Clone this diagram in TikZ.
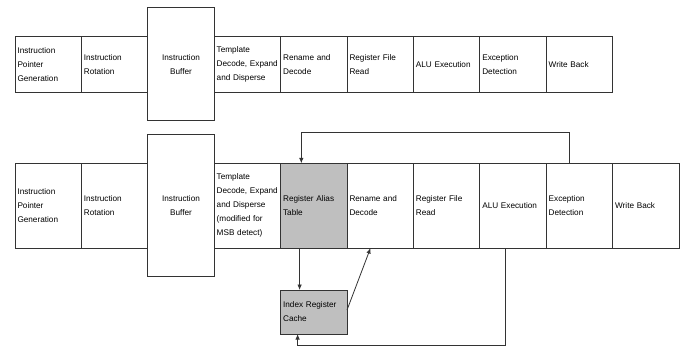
\documentclass[tikz,border=0pt]{standalone}
\usepackage{fontspec}
\setmainfont{Liberation Sans}
\usetikzlibrary{positioning}
\usetikzlibrary{calc}
\usetikzlibrary{arrows.meta}
\tikzstyle{cstage}  = [draw=black!80, line width=0.8pt, outer sep=0pt, minimum width=66.4pt, text width=61.4pt, inner xsep=2.5pt, inner ysep=0pt, align=left, font=\fontsize{8.2}{14}\selectfont]
\tikzstyle{cbuffer} = [cstage, align=center]
\tikzstyle{cgray}   = [cstage, fill=black!25]
\tikzstyle{rowA}    = [minimum height=56.5pt]
\tikzstyle{rowB}    = [minimum height=84.7pt]
\tikzstyle{cflow}   = [draw=black!80, line width=0.8pt, -{Latex[length=5.5pt,width=4.5pt]}]

\begin{document}
\begin{tikzpicture}[x=1pt, y=-1pt]
  \useasboundingbox (0,0) rectangle (684,347);
% upper pipeline
  \node[cstage, rowA] (ipgA) at (48.2,64.3) {Instruction\\Pointer\\Generation};
  \node[cstage, rowA, right=0pt of ipgA] (irA) {Instruction\\Rotation};
  \node[cbuffer, minimum height=113pt, right=0pt of irA] (ibA) {Instruction\\Buffer};
  \node[cstage, rowA, right=0pt of ibA] (tdeA) {Template\\\mbox{Decode, Expand}\\and Disperse};
  \node[cstage, rowA, right=0pt of tdeA] (rdA) {Rename and\\Decode};
  \node[cstage, rowA, right=0pt of rdA] (rfrA) {Register File\\Read};
  \node[cstage, rowA, right=0pt of rfrA] (aluA) {ALU Execution};
  \node[cstage, rowA, right=0pt of aluA] (edA) {Exception\\Detection};
  \node[cstage, rowA, right=0pt of edA] (wbA) {Write Back};
% lower pipeline
  \node[cstage, rowB] (ipgB) at (48.2,205.7) {Instruction\\Pointer\\Generation};
  \node[cstage, rowB, right=0pt of ipgB] (irB) {Instruction\\Rotation};
  \node[cbuffer, minimum height=142pt, right=0pt of irB] (ibB) {Instruction\\Buffer};
  \node[cstage, rowB, right=0pt of ibB] (tdeB) {Template\\\mbox{Decode, Expand}\\and Disperse\\(modified for\\MSB detect)};
  \node[cgray, rowB, right=0pt of tdeB] (ratB) {\mbox{Register Alias}\\Table};
  \node[cstage, rowB, right=0pt of ratB] (rdB) {Rename and\\Decode};
  \node[cstage, rowB, right=0pt of rdB] (rfrB) {Register File\\Read};
  \node[cstage, rowB, right=0pt of rfrB] (aluB) {ALU Execution};
  \node[cstage, rowB, right=0pt of aluB] (edB) {Exception\\Detection};
  \node[cstage, rowB, right=0pt of edB] (wbB) {Write Back};
  \node[cgray, minimum height=44pt, below=42pt of ratB] (ircB) {\mbox{Index Register}\\Cache};
% connectors
  \draw[cflow] ($(edB.north west)+(22.7,0)$) |- ($(ratB.north west)+(20.7,-30.6)$) -- ($(ratB.north west)+(20.7,0)$);
  \draw[cflow] ($(ratB.south west)+(19,0)$) -- ($(ircB.north west)+(19,0)$);
  \draw[cflow] ($(ircB.east)+(0,-2)$) -- ($(rdB.south west)+(23.5,0)$);
  \draw[cflow] ($(aluB.south west)+(26,0)$) -- ++(0,97.5) -| ($(ircB.south west)+(17,0)$);
\end{tikzpicture}
\end{document}
